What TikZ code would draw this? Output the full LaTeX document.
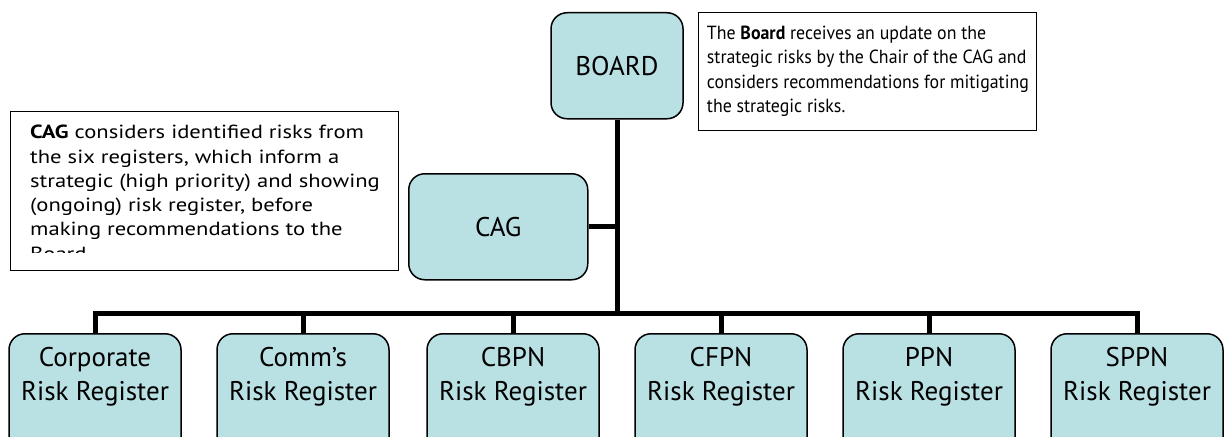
\documentclass[tikz,border=0pt]{standalone}
\usepackage{fontspec}
\setmainfont{PT Sans}
\newfontfamily\cagnotefont[FakeStretch=1.19]{PT Sans}
\newfontfamily\boardnotefont[FakeStretch=0.94]{PT Sans}
\usetikzlibrary{calc}
\definecolor{boxfill}{RGB}{185,224,227}
\begin{document}
\begin{tikzpicture}[x=1pt,y=-1pt,
  unit/.style={draw=black, line width=1.5pt, fill=boxfill, rounded corners=16pt, inner sep=0pt},
  boxlabel/.style={font=\fontsize{27}{34}\selectfont, align=center, inner sep=0pt},
  notebox/.style={draw=black, line width=1.2pt, fill=white, inner sep=0pt, anchor=north west},
  notetext/.style={align=left, inner sep=0pt, anchor=north west},
  conn/.style={line width=5pt, line join=miter}]
\useasboundingbox (0,0) rectangle (1225,436);
\clip (0,0) rectangle (1225,436);

% registers
\foreach \n/\x/\a/\b in {r1/95/Corporate/Risk Register, r2/303/Comm’s/Risk Register, r3/513/CBPN/Risk Register, r4/721/CFPN/Risk Register, r5/929/PPN/Risk Register, r6/1137/SPPN/Risk Register}{
  \node[unit, minimum width=172pt, minimum height=140pt, anchor=north] (\n) at (\x,333) {};
  \node[boxlabel, anchor=north] (\n t) at (\x,347) {\a\\\b};
}
\coordinate (mid) at ($(r3.north)!0.5!(r4.north)$);

% top level
\node[unit, minimum width=132pt, minimum height=106pt, anchor=north] (board) at (mid |- 0,12) {};
\node[boxlabel] (boardt) at (board.center) {BOARD};
\node[unit, minimum width=179pt, minimum height=106pt, anchor=north west] (cag) at (408,173) {};
\node[boxlabel] (cagt) at (cag.center) {CAG};

% connectors
\coordinate (bus) at (0,313);
\draw[conn] (r1.north) -- (r1.north |- bus) -- (r6.north |- bus) -- (r6.north);
\foreach \n in {r2,r3,r4,r5}{\draw[conn] (\n.north) -- (\n.north |- bus);}
\draw[conn] (board.south) -- (board.south |- bus);
\draw[conn] (cag.east) -- (cag.east -| board.south);

% notes
\node[notebox, minimum width=388pt, minimum height=159pt] (cagnote) at (10,111) {};
\begin{scope}
  \clip (12,113) rectangle (396,252);
  \node[notetext, font=\cagnotefont\fontsize{19}{24.3}\selectfont] (cagnotet) at (30,125) {\textbf{CAG} considers identified risks from\\
    the six registers, which inform a\\
    strategic (high priority) and showing\\
    (ongoing) risk register, before\\
    making recommendations to the\\
    Board.};
\end{scope}
\node[notebox, minimum width=338pt, minimum height=118pt] (boardnote) at ([xshift=14pt]board.north east) {};
\begin{scope}
  \clip ([shift={(2pt,-2pt)}]boardnote.north west) rectangle ([shift={(-2pt,15.5pt)}]boardnote.south east);
  \node[notetext, font=\boardnotefont\fontsize{19}{24.3}\selectfont] (boardnotet) at ([shift={(9pt,-14pt)}]boardnote.north west) {The \textbf{Board} receives an update on the\\
    strategic risks by the Chair of the CAG and\\
    considers recommendations for mitigating\\
    the strategic risks.};
\end{scope}
\end{tikzpicture}
\end{document}
